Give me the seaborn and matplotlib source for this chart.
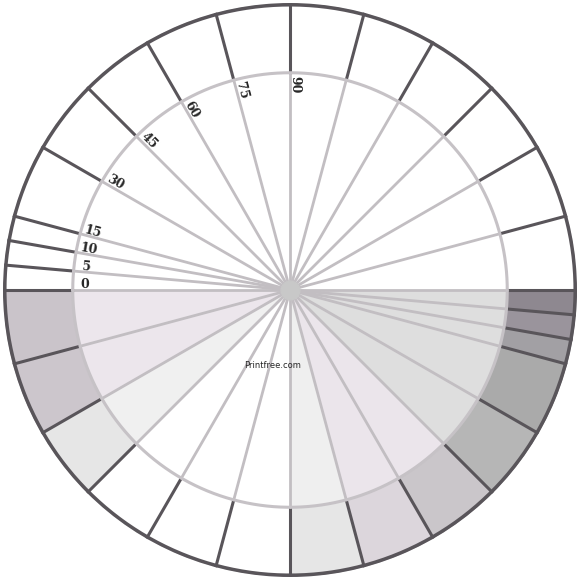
import numpy as np
import matplotlib
matplotlib.use("Agg")
from matplotlib import pyplot as plt
import seaborn as sns

sns.set_style("white")

# angles in degrees, 0 = left, increasing clockwise through the top
outer_edges = [0, 5, 10, 15, 30, 45, 60, 75, 90, 105, 120, 135, 150, 165,
               180, 185, 190, 195, 210, 225, 240, 255, 270, 285, 300, 315, 330, 345, 360]
outer_colors = ["white"] * 14 + ["#8e8890", "#9a949c", "#a2a0a4", "#aaaaaa", "#b6b6b6",
                                 "#cac6ca", "#dcd6dc", "#e6e6e6", "white", "white", "white",
                                 "#e6e6e6", "#ccc6cc", "#cac4ca"]
inner_edges = [0, 180, 225, 255, 270, 315, 330, 360]
inner_colors = ["white", "#dedede", "#ebe5eb", "#efefef", "white", "#f0f0f0", "#ece6ec"]
spoke_angles = [0, 5, 10, 15, 30, 45, 60, 75, 90, 105, 120, 135, 150, 165,
                180, 185, 190, 195, 210, 225, 240, 255, 270, 285, 300, 315, 330, 345]
label_angles = [0, 5, 10, 15, 30, 45, 60, 75, 90]

r_in = 0.757

fig = plt.figure(figsize=(5.83, 5.85), dpi=100)
ax = fig.add_axes([3 / 583, 8 / 585, 574 / 583, 574 / 585], projection="polar")
ax.set_theta_zero_location("W")
ax.set_theta_direction(-1)

# outer ring
for a0, a1, c in zip(outer_edges[:-1], outer_edges[1:], outer_colors):
    ax.bar(np.deg2rad(a0), 1 - r_in, width=np.deg2rad(a1 - a0), bottom=r_in,
           align="edge", color=c, edgecolor="none")
# inner disc
for a0, a1, c in zip(inner_edges[:-1], inner_edges[1:], inner_colors):
    ax.bar(np.deg2rad(a0), r_in, width=np.deg2rad(a1 - a0), bottom=0,
           align="edge", color=c, edgecolor="none")

# outer dividers
for a in outer_edges[:-1]:
    t = np.deg2rad(a)
    ax.plot([t, t], [r_in, 1], color="#59555a", lw=2.2)
# spokes
for a in spoke_angles:
    t = np.deg2rad(a)
    ax.plot([t, t], [0, r_in], color="#c2bec2", lw=2)

th = np.linspace(0, 2 * np.pi, 400)
ax.plot(th, np.full_like(th, r_in), color="#c6c2c6", lw=2.2)
ax.plot(th, np.full_like(th, 0.995), color="#59555a", lw=3)
ax.scatter([0], [0], s=180, color="#c8c8c8", zorder=5)

for a in label_angles:
    ax.text(np.deg2rad(a + 1.5), 0.715, str(a), rotation=-a, ha="center", va="center",
            fontsize=9, fontweight="bold", family="DejaVu Serif", rotation_mode="anchor")

ax.text(np.deg2rad(283), 0.27, "Printfree.com", ha="center", va="center",
        fontsize=6, family="Liberation Sans Narrow")

ax.set_ylim(0, 1)
ax.set_xticks([])
ax.set_yticks([])
ax.grid(False)
ax.spines["polar"].set_visible(False)

fig.savefig("out.png", dpi=100)
